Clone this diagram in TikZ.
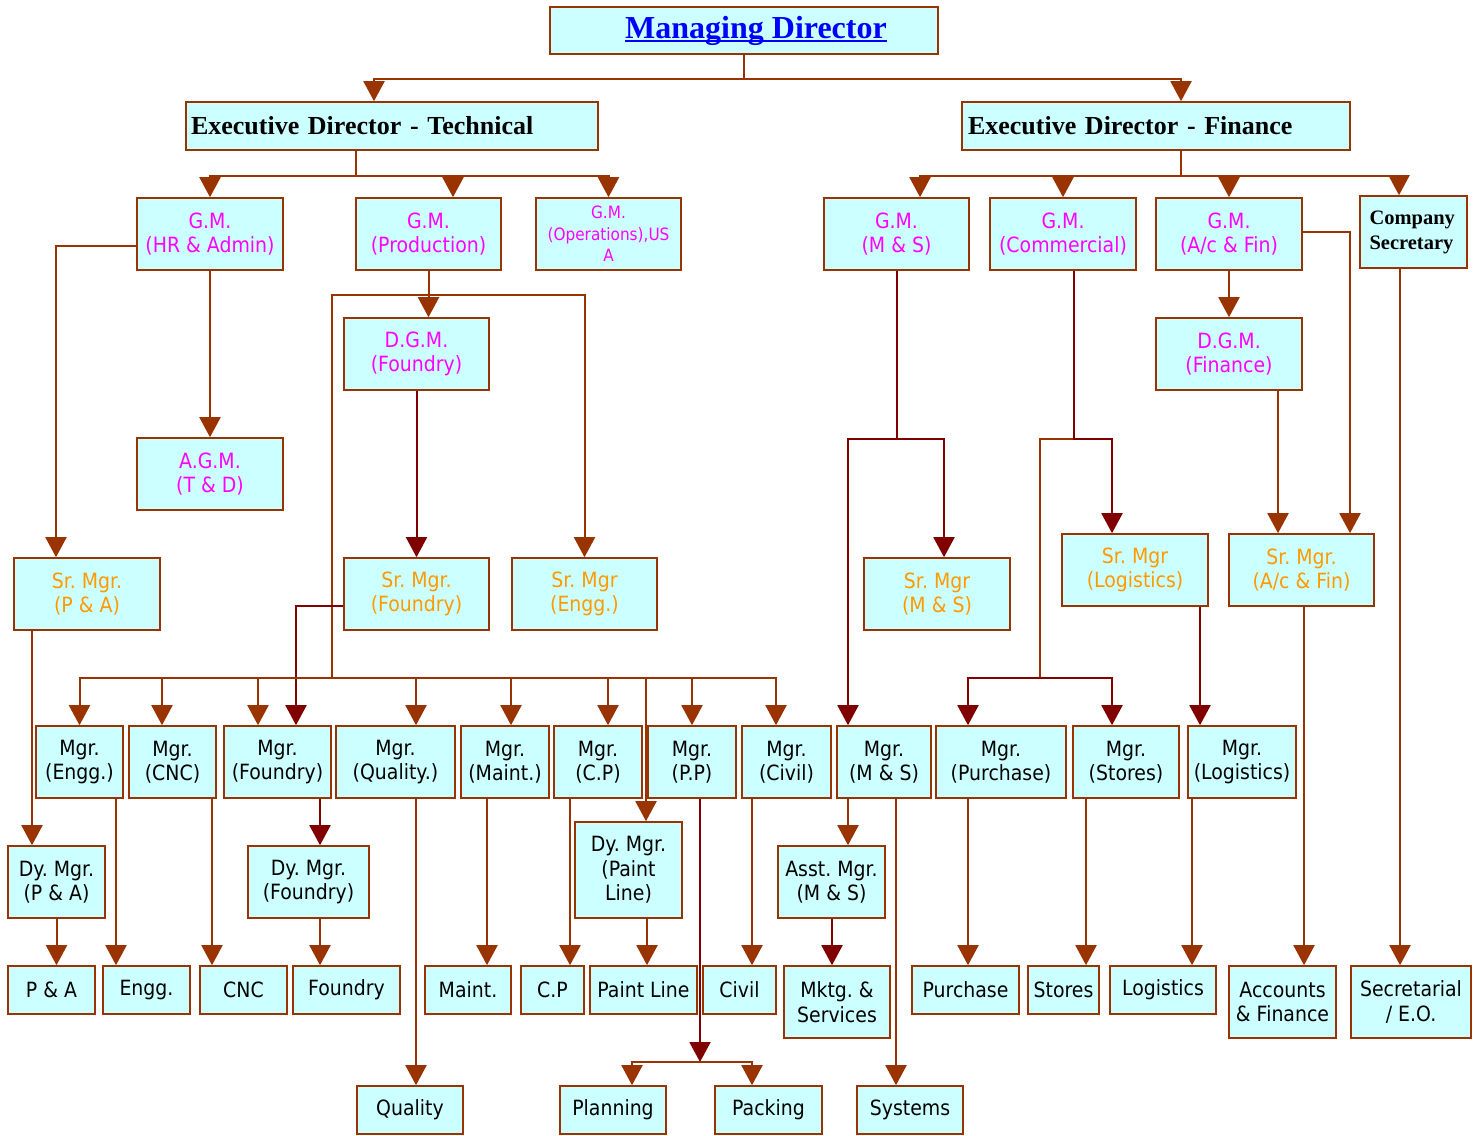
\documentclass[tikz,border=0pt]{standalone}
\usepackage{fontspec}
\newfontfamily\boxfont[FakeStretch=0.9]{DejaVu Sans}
\newfontfamily\headfont{Liberation Serif}
\usetikzlibrary{arrows.meta}

\definecolor{brownline}{HTML}{993300}
\definecolor{redline}{HTML}{800000}
\definecolor{boxfill}{HTML}{CCFFFF}
\definecolor{gmpink}{HTML}{FF00FF}
\definecolor{srorange}{HTML}{FF9900}

\newcommand\mdunderline[1]{\setbox0=\hbox{#1}\rlap{\rule[-4pt]{\wd0}{2.5pt}}\box0}
\frenchspacing

\begin{document}
\begin{tikzpicture}[x=1pt, y=-1pt, >={Triangle[length=20pt,width=21pt]},
  box/.style={draw=brownline, fill=boxfill, line width=1.6pt, inner sep=0pt, align=center,
    font=\boxfont\fontsize{21}{24.5}\selectfont},
  tall/.style={minimum height=72pt},
  flat/.style={minimum height=48pt},
  head/.style={font=\headfont\bfseries\fontsize{26}{30}\selectfont},
  gm/.style={text=gmpink},
  sr/.style={text=srorange},
  conn/.style={->, draw=brownline, line width=2pt},
  connR/.style={->, draw=redline, line width=2pt},
  wire/.style={draw=brownline, line width=2pt}]

  \fill[white] (0,0) rectangle (1479,1135);

  % directors
  \node[box, head, font=\headfont\bfseries\fontsize{32}{36}\selectfont, minimum width=388pt, minimum height=47pt] (md) at (744,30.5)
    {\hspace*{24pt}\raisebox{-3pt}{\textcolor{blue}{\mdunderline{Managing Director}}}};
  \node[box, head, flat, minimum width=412pt, text width=402pt, align=left] (edt) at (392,126) {Executive Director - Technical};
  \node[box, head, flat, minimum width=388pt, text width=376pt, align=left] (edf) at (1156,126) {Executive Director - Finance};

  % G.M. level
  \node[box, tall, gm, minimum width=146pt] (gmHR) at (210,234) {G.M.\\(HR \& Admin)};
  \node[box, tall, gm, minimum width=145pt] (gmProd) at (428.5,234) {G.M.\\(Production)};
  \node[box, tall, gm, minimum width=145pt, font=\boxfont\fontsize{17}{21.5}\selectfont] (gmOps) at (608.5,234) {G.M.\\(Operations),US\\A};
  \node[box, tall, gm, minimum width=145pt] (gmMS) at (896.5,234) {G.M.\\(M \& S)};
  \node[box, tall, gm, minimum width=146pt] (gmComm) at (1063,234) {G.M.\\(Commercial)};
  \node[box, tall, gm, minimum width=146pt] (gmAc) at (1229,234) {G.M.\\(A/c \& Fin)};
  \node[box, tall, font=\headfont\bfseries\fontsize{20.5}{25}\selectfont, minimum width=107pt, text width=88pt, align=left] (cs) at (1413.5,232) {Company\\Secretary};

  \node[box, tall, gm, minimum width=145pt] (dgmF) at (416.5,354) {D.G.M.\\(Foundry)};
  \node[box, tall, gm, minimum width=146pt] (dgmFin) at (1229,354) {D.G.M.\\(Finance)};
  \node[box, tall, gm, minimum width=146pt] (agm) at (210,474) {A.G.M.\\(T \& D)};

  % senior managers
  \node[box, tall, sr, minimum width=146pt] (srPA) at (87,594) {Sr. Mgr.\\(P \& A)};
  \node[box, tall, sr, minimum width=145pt] (srFoundry) at (416.5,594) {Sr. Mgr.\\(Foundry)};
  \node[box, tall, sr, minimum width=145pt] (srEngg) at (584.5,594) {Sr. Mgr\\(Engg.)};
  \node[box, tall, sr, minimum width=146pt] (srMS) at (937,594) {Sr. Mgr\\(M \& S)};
  \node[box, tall, sr, minimum width=146pt] (srLog) at (1135,570) {Sr. Mgr\\(Logistics)};
  \node[box, tall, sr, minimum width=145pt] (srAc) at (1301.5,570) {Sr. Mgr.\\(A/c \& Fin)};

  % managers
  \node[box, tall, minimum width=87pt] (mEngg) at (79.5,762) {Mgr.\\(Engg.)};
  \node[box, tall, minimum width=87pt] (mCNC) at (172.5,762) {Mgr.\\(CNC)};
  \node[box, tall, minimum width=107pt] (mFoundry) at (277.5,762) {Mgr.\\(Foundry)};
  \node[box, tall, minimum width=119pt] (mQuality) at (395.5,762) {Mgr.\\(Quality.)};
  \node[box, tall, minimum width=88pt] (mMaint) at (505,762) {Mgr.\\(Maint.)};
  \node[box, tall, minimum width=88pt] (mCP) at (598,762) {Mgr.\\(C.P)};
  \node[box, tall, minimum width=88pt] (mPP) at (692,762) {Mgr.\\(P.P)};
  \node[box, tall, minimum width=89pt] (mCivil) at (786.5,762) {Mgr.\\(Civil)};
  \node[box, tall, minimum width=94pt] (mMS) at (884,762) {Mgr.\\(M \& S)};
  \node[box, tall, minimum width=130pt] (mPurchase) at (1001,762) {Mgr.\\(Purchase)};
  \node[box, tall, minimum width=106pt] (mStores) at (1126,762) {Mgr.\\(Stores)};
  \node[box, tall, minimum width=108pt] (mLogistics) at (1242,762) {Mgr.\\(Logistics)};

  % deputy / assistant managers
  \node[box, tall, minimum width=97pt] (dPA) at (56.5,882) {Dy. Mgr.\\(P \& A)};
  \node[box, tall, minimum width=121pt] (dFoundry) at (308.5,882) {Dy. Mgr.\\(Foundry)};
  \node[box, minimum width=107pt, minimum height=96pt] (dPaint) at (628.5,870) {Dy. Mgr.\\(Paint\\Line)};
  \node[box, tall, minimum width=107pt] (aMS) at (831.5,882) {Asst. Mgr.\\(M \& S)};

  % sections
  \node[box, flat, minimum width=87pt] (bPA) at (51.5,990) {P \& A};
  \node[box, flat, minimum width=87pt] (bEngg) at (146.5,990) {Engg.};
  \node[box, flat, minimum width=87pt] (bCNC) at (243.5,990) {CNC};
  \node[box, flat, minimum width=107pt] (bFoundry) at (346.5,990) {Foundry};
  \node[box, flat, minimum width=86pt] (bMaint) at (468,990) {Maint.};
  \node[box, flat, minimum width=63pt] (bCP) at (552.5,990) {C.P};
  \node[box, flat, minimum width=107pt] (bPaint) at (643.5,990) {Paint Line};
  \node[box, flat, minimum width=73pt] (bCivil) at (739.5,990) {Civil};
  \node[box, tall, minimum width=106pt] (bMktg) at (837,1002) {Mktg. \&\\Services};
  \node[box, flat, minimum width=107pt] (bPurchase) at (965.5,990) {Purchase};
  \node[box, flat, minimum width=71pt] (bStores) at (1063.5,990) {Stores};
  \node[box, flat, minimum width=106pt] (bLogistics) at (1163,990) {Logistics};
  \node[box, tall, minimum width=107pt] (bAccounts) at (1282.5,1002) {Accounts\\\& Finance};
  \node[box, tall, minimum width=120pt] (bSecretarial) at (1411,1002) {Secretarial\\/ E.O.};

  \node[box, flat, minimum width=106pt] (qQuality) at (410,1110) {Quality};
  \node[box, flat, minimum width=106pt] (qPlanning) at (613,1110) {Planning};
  \node[box, flat, minimum width=107pt] (qPacking) at (768.5,1110) {Packing};
  \node[box, flat, minimum width=106pt] (qSystems) at (910,1110) {Systems};

  \coordinate (prodBus) at (332,678);
  \coordinate (commSplit) at (1040,678);
  \coordinate (ppSplit) at (700,1062);

  % top levels
  \draw[conn] (md.south) -- ++(0,24) -| (edt.north -| 374,0);
  \draw[conn] (md.south) -- ++(0,24) -| (edf.north -| 1181,0);
  \draw[conn] (edt.south -| 356,0) -- ++(0,25) -| (gmHR.north);
  \draw[conn] (edt.south -| 356,0) -- ++(0,25) -| (gmProd.north -| 453,0);
  \draw[conn] (edt.south -| 356,0) -- ++(0,25) -| (gmOps.north);
  \draw[conn] (edf.south -| 1181,0) -- ++(0,25) -| (gmMS.north -| 920,0);
  \draw[conn] (edf.south -| 1181,0) -- ++(0,25) -| (gmComm.north);
  \draw[conn] (edf.south -| 1181,0) -- ++(0,25) -| (gmAc.north);
  \draw[conn] (edf.south -| 1181,0) -- ++(0,25) -| (cs.north -| 1399,0);

  % technical side
  \draw[conn] (gmHR.south) -- (agm.north);
  \draw[conn] ([yshift=-12pt]gmHR.west) -| (srPA.north -| 56,0);
  \draw[conn] (gmProd.south) -- (dgmF.north -| gmProd.south);
  \draw[conn] (gmProd.south) -- ++(0,24) -| (srEngg.north);
  \draw[wire] (gmProd.south) -- ++(0,24) -| (prodBus);
  \draw[connR] (dgmF.south) -- (srFoundry.north);
  \draw[connR] ([yshift=-12pt]srFoundry.west) -| (mFoundry.north -| 296,0);
  \draw[conn] (prodBus) -| (mEngg.north);
  \draw[conn] (prodBus) -| (mCNC.north -| 162,0);
  \draw[conn] (prodBus) -| (mFoundry.north -| 258,0);
  \draw[conn] (prodBus) -| (mQuality.north -| 416,0);
  \draw[conn] (prodBus) -| (mMaint.north -| 511,0);
  \draw[conn] (prodBus) -| (mCP.north -| 608,0);
  \draw[conn] (prodBus) -| (dPaint.north -| 646,0);
  \draw[conn] (prodBus) -| (mPP.north);
  \draw[conn] (prodBus) -| (mCivil.north -| 776,0);

  \draw[conn] (srPA.south -| 32,0) -- (dPA.north -| 32,0);
  \draw[conn] (dPA.south) -- (bPA.north -| dPA.south);
  \draw[conn] (mEngg.south -| 116,0) -- (bEngg.north -| 116,0);
  \draw[conn] (mCNC.south -| 212,0) -- (bCNC.north -| 212,0);
  \draw[connR] (mFoundry.south -| 320,0) -- (dFoundry.north -| 320,0);
  \draw[conn] (dFoundry.south -| 320,0) -- (bFoundry.north -| 320,0);
  \draw[conn] (mQuality.south -| 416,0) -- (qQuality.north -| 416,0);
  \draw[conn] (mMaint.south -| 487,0) -- (bMaint.north -| 487,0);
  \draw[conn] (mCP.south -| 570,0) -- (bCP.north -| 570,0);
  \draw[conn] (dPaint.south -| 647,0) -- (bPaint.north -| 647,0);
  \draw[connR] (mPP.south -| 700,0) -- (ppSplit);
  \draw[conn] (ppSplit) -| (qPlanning.north -| 632,0);
  \draw[conn] (ppSplit) -| (qPacking.north -| 752,0);
  \draw[conn] (mCivil.south -| 752,0) -- (bCivil.north -| 752,0);

  % finance side
  \draw[connR] (gmMS.south) -- ++(0,168) -| (srMS.north -| 944,0);
  \draw[connR] (gmMS.south) -- ++(0,168) -| (mMS.north -| 848,0);
  \draw[conn] (mMS.south -| 848,0) -- (aMS.north -| 848,0);
  \draw[connR] (aMS.south -| 832,0) -- (bMktg.north -| 832,0);
  \draw[conn] (mMS.south -| 896,0) -- (qSystems.north -| 896,0);

  \draw[wire] (gmComm.south -| 1074,0) -- ++(0,168) -| (commSplit);
  \draw[connR] (gmComm.south -| 1074,0) -- ++(0,168) -| (srLog.north -| 1112,0);
  \draw[connR] (commSplit) -| (mPurchase.north -| 968,0);
  \draw[connR] (commSplit) -| (mStores.north -| 1112,0);
  \draw[connR] (srLog.south -| 1200,0) -- (mLogistics.north -| 1200,0);

  \draw[conn] (gmAc.south) -- (dgmFin.north);
  \draw[conn] ([yshift=2pt]gmAc.east) -| (srAc.north -| 1350,0);
  \draw[conn] (dgmFin.south -| 1278,0) -- (srAc.north -| 1278,0);
  \draw[conn] (srAc.south -| 1304,0) -- (bAccounts.north -| 1304,0);
  \draw[conn] (cs.south -| 1400,0) -- (bSecretarial.north -| 1400,0);
  \draw[conn] (mPurchase.south -| 968,0) -- (bPurchase.north -| 968,0);
  \draw[conn] (mStores.south -| 1086,0) -- (bStores.north -| 1086,0);
  \draw[conn] (mLogistics.south -| 1192,0) -- (bLogistics.north -| 1192,0);
\end{tikzpicture}
\end{document}
